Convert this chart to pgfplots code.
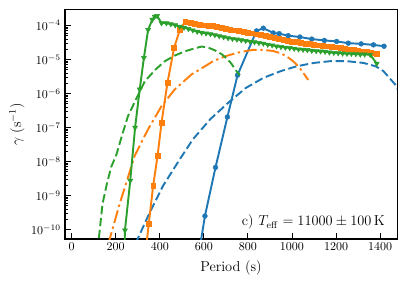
\documentclass[border=0pt]{standalone}
\usepackage{pgfplots}
\pgfplotsset{compat=1.18}
\definecolor{tabblue}{HTML}{1F77B4}
\definecolor{taborange}{HTML}{FF7F0E}
\definecolor{tabgreen}{HTML}{2CA02C}
\begin{document}
\begin{tikzpicture}
\begin{axis}[
  name=ax,
  width=276.7pt, height=191.1pt, scale only axis,
  ymode=log,
  xmin=-30, xmax=1477,
  ymin=5.3e-11, ymax=2.9e-4,
  xtick={0,200,...,1400},
  ytick={1e-10,1e-9,1e-8,1e-7,1e-6,1e-5,1e-4},
  x tick label style={/pgf/number format/1000 sep={}},
  tick pos=left, tick align=inside,
  major tick length=4.7pt, minor tick length=2.5pt,
  axis line style={line width=0.9pt},
  every tick/.style={black, line width=0.7pt},
  clip mode=individual,
  xlabel={\large Period (s)},
  ylabel={\large $\gamma\ (\mathrm{s}^{-1})$},
  xlabel style={at={(axis description cs:0.5,0)}, anchor=center, yshift=-24pt},
  ylabel style={at={(axis description cs:-0.145,0.5)}, anchor=center},
  every axis plot/.append style={line width=1.6pt},
]
% blue solid
\addplot[tabblue, mark=*, mark size=2pt, mark options={line width=0.4pt}] coordinates {
(570,1e-11) (605,2.51e-10) (653,6.76e-9) (707,2.04e-7) (753,3.47e-6)
(839,6.92e-5) (870,8.32e-5) (915,6.03e-5) (942,5.75e-5) (983,5.01e-5)
(1036,4.57e-5) (1090,3.98e-5) (1147,3.63e-5) (1203,3.39e-5) (1256,3.02e-5)
(1314,2.88e-5) (1370,2.69e-5) (1418,2.45e-5)};
% blue dashed
\addplot[tabblue, dash pattern=on 7pt off 3pt] coordinates {
(290,3.89e-11) (355,3.24e-10) (415,1.95e-9) (491,1.17e-8) (551,4.57e-8) (630,1.78e-7)
(711,5.37e-7) (790,1.45e-6) (870,2.88e-6) (950,4.57e-6) (1021,6.31e-6) (1100,7.94e-6)
(1173,8.91e-6) (1250,8.91e-6) (1324,7.94e-6) (1380,6.31e-6) (1415,4.57e-6) (1468,1.86e-6) (1500,7.94e-7)};
% orange solid
\addplot[taborange, mark=square*, mark size=2pt, mark options={line width=0.4pt}] coordinates {
(330,1e-11) (350,1.48e-10) (370,1.95e-9) (390,1.48e-8) (408,1.38e-7) (435,2.09e-6)
(465,2.19e-5) (491,7.41e-5) (516,1.32e-4) (540,1.20e-4) (560,1.12e-4) (580,1.07e-4)
(600,1.02e-4) (620,9.77e-5) (640,9.55e-5) (660,9.12e-5) (680,8.51e-5) (700,7.94e-5)
(720,7.41e-5) (740,7.24e-5) (760,6.92e-5) (780,6.61e-5) (800,6.17e-5) (820,5.89e-5)
(840,5.50e-5) (860,5.25e-5) (880,5.01e-5) (900,4.68e-5) (920,4.27e-5) (940,3.98e-5)
(960,3.72e-5) (980,3.55e-5) (1000,3.39e-5) (1020,3.24e-5) (1040,3.09e-5) (1060,2.95e-5)
(1080,2.88e-5) (1100,2.75e-5) (1120,2.63e-5) (1140,2.51e-5) (1160,2.45e-5) (1180,2.40e-5)
(1200,2.29e-5) (1220,2.19e-5) (1240,2.09e-5) (1260,2.00e-5) (1280,1.91e-5) (1300,1.86e-5)
(1320,1.74e-5) (1340,1.66e-5) (1360,1.58e-5) (1385,1.48e-5)};
% orange dash-dot
\addplot[taborange, dash pattern=on 11pt off 3pt on 2pt off 3pt] coordinates {
(165,3.55e-11) (218,5.75e-10) (249,2.51e-9) (286,1.48e-8) (347,8.91e-8) (408,4.27e-7)
(468,1.32e-6) (544,3.63e-6) (605,6.31e-6) (642,8.91e-6) (700,1.26e-5) (760,1.62e-5)
(820,1.91e-5) (870,1.91e-5) (915,1.78e-5) (950,1.51e-5) (976,1.23e-5) (1000,9.55e-6)
(1021,7.08e-6) (1045,4.68e-6) (1067,2.88e-6) (1074,2.51e-6)};
% green solid
\addplot[tabgreen, mark=triangle*, mark size=2.4pt, mark options={line width=0.4pt, rotate=180}] coordinates {
(238,1e-11) (242,9.55e-11) (266,2.75e-9) (288,1.0e-7) (309,1.32e-6) (328,1.12e-5)
(347,7.41e-5) (366,1.48e-4) (377,1.82e-4) (388,1.91e-4) (408,1.17e-4) (430,1.17e-4)
(450,1.10e-4) (470,1.02e-4) (490,9.33e-5) (510,8.71e-5) (530,7.94e-5) (550,7.24e-5)
(570,6.61e-5) (590,6.17e-5) (610,5.89e-5) (630,5.62e-5) (650,5.25e-5) (670,4.90e-5)
(690,4.57e-5) (710,4.27e-5) (730,4.07e-5) (750,3.89e-5) (770,3.72e-5) (790,3.55e-5)
(810,3.39e-5) (830,3.24e-5) (850,3.09e-5) (870,2.95e-5) (890,2.75e-5) (910,2.63e-5)
(930,2.45e-5) (950,2.34e-5) (970,2.24e-5) (990,2.19e-5) (1010,2.09e-5) (1030,2.00e-5)
(1050,1.95e-5) (1070,1.91e-5) (1090,1.82e-5) (1110,1.78e-5) (1130,1.74e-5) (1150,1.70e-5)
(1170,1.62e-5) (1190,1.58e-5) (1210,1.55e-5) (1230,1.51e-5) (1250,1.48e-5) (1270,1.48e-5)
(1290,1.45e-5) (1310,1.41e-5) (1330,1.41e-5) (1355,1.38e-5) (1385,7.59e-6)};
% green dashed
\addplot[tabgreen, dash pattern=on 7pt off 3pt] coordinates {
(118,2.51e-11) (140,5.62e-10) (160,2.24e-9) (180,7.08e-9) (203,1.58e-8) (230,6.31e-8)
(256,2.19e-7) (290,6.31e-7) (332,2.29e-6) (380,5.01e-6) (423,8.91e-6) (470,1.32e-5)
(514,1.74e-5) (560,2.14e-5) (590,2.40e-5) (620,2.24e-5) (650,1.86e-5) (680,1.45e-5)
(705,1.05e-5) (725,7.59e-6) (740,5.37e-6) (755,3.98e-6) (764,3.47e-6)};
\node[anchor=base east, font=\large] at (rel axis cs:0.976,0.057)
  {c) $T_{\mathrm{eff}} = 11000\pm100\,\mathrm{K}$};
\end{axis}
\pgfresetboundingbox
\path ([shift={(-54.2pt,-39.2pt)}]ax.south west) rectangle ([shift={(8.3pt,8.1pt)}]ax.north east);
\end{tikzpicture}
\end{document}
